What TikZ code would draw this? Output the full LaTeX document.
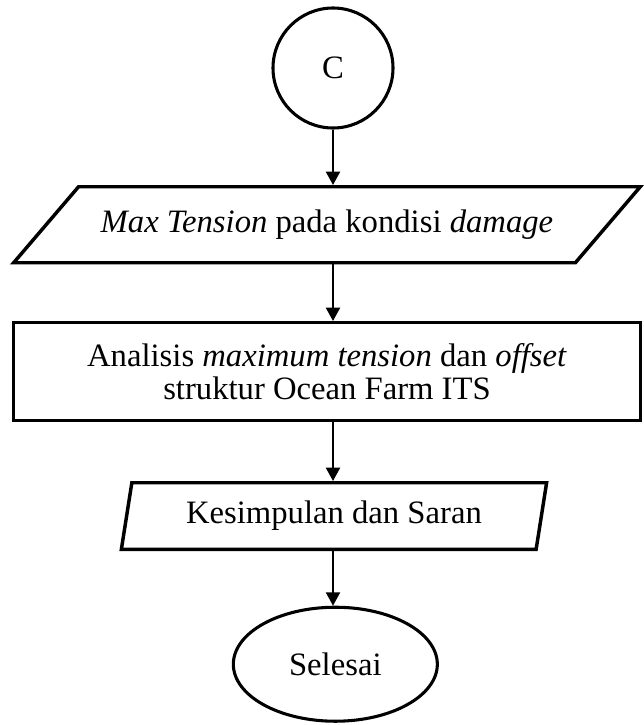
\documentclass[tikz,border=0pt]{standalone}
\usepackage{fontspec}
\setmainfont{Liberation Serif}
\usetikzlibrary{shapes.geometric, positioning, arrows.meta}
\tikzset{
>={Triangle[length=10pt, width=10.5pt]}, % filled arrow heads
every node/.style={font=\fontsize{24.5pt}{25pt}\selectfont, align=center}, % text as in the document
connector/.style={circle, draw, line width=2.3pt, minimum size=90pt, inner sep=0pt}, % off-page connector
terminal/.style={ellipse, draw, line width=2.3pt, minimum width=153pt, minimum height=85.5pt},
process/.style={rectangle, draw, line width=2.6pt, minimum width=470pt, minimum height=73.5pt},
io/.style={trapezium, draw, line width=2.6pt, trapezium stretches=true, inner sep=2pt}, % data (parallelogram)
flow/.style={->, line width=1.5pt},
}

\begin{document}
\begin{tikzpicture}[x=0.75pt, y=-0.75pt]
      \useasboundingbox (0,0) rectangle (643,725);
      \node[connector] (C) at (333,68) {C};
      \node[io, trapezium left angle=30.3, trapezium right angle=149.7, minimum width=471pt, minimum height=57pt, below=41.6pt of C, xshift=-4.5pt] (maxten) {\textit{Max Tension} pada kondisi \textit{damage}};
      \node[process, below=42.4pt of maxten] (analisis) {Analisis \textit{maximum tension} dan \textit{offset}\\struktur Ocean Farm ITS};
      \node[io, trapezium left angle=77.4, trapezium right angle=102.6, minimum width=320pt, minimum height=50pt, below=43.9pt of analisis, xshift=5.25pt] (saran) {Kesimpulan dan Saran};
      \node[terminal, below=40.9pt of saran, xshift=1pt] (selesai) {Selesai};

      \draw[flow] (C.south) -- (C.south |- maxten.north);
      \draw[flow] (maxten.south -| C) -- (analisis.north -| C);
      \draw[flow] (analisis.south -| C) -- (saran.north -| C);
      \draw[flow] (saran.south -| C) -- (selesai.north -| C);
\end{tikzpicture}
\end{document}
